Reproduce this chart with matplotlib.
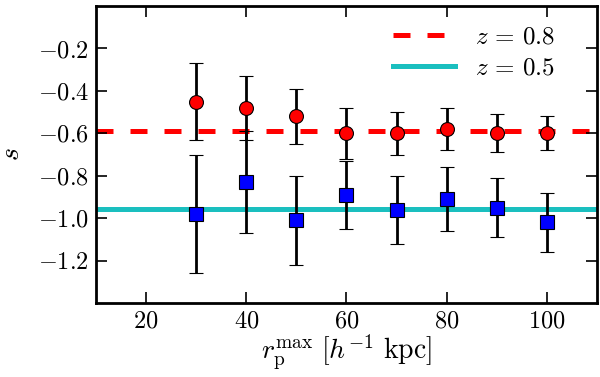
import matplotlib
matplotlib.use("Agg")
import matplotlib.pyplot as plt
from matplotlib.ticker import FuncFormatter, MultipleLocator

plt.rcParams['mathtext.fontset'] = 'cm'
plt.rcParams['font.family'] = 'serif'
plt.rcParams['font.serif'] = ['cmr10', 'DejaVu Serif']
plt.rcParams['axes.unicode_minus'] = True

rp = [30, 40, 50, 60, 70, 80, 90, 100]
s_z08 = [-0.45, -0.48, -0.52, -0.60, -0.60, -0.58, -0.60, -0.60]
err_z08 = [0.18, 0.15, 0.13, 0.12, 0.10, 0.10, 0.09, 0.08]
s_z05 = [-0.98, -0.83, -1.01, -0.89, -0.96, -0.91, -0.95, -1.02]
err_z05 = [0.28, 0.24, 0.21, 0.16, 0.16, 0.15, 0.14, 0.14]
mean_z08 = -0.59
mean_z05 = -0.955

fig = plt.figure(figsize=(6.0, 3.77), dpi=100)
ax = fig.add_axes([0.16, 0.196, 0.835, 0.788])

ax.axhline(mean_z08, color='red', lw=3.6, ls=(0, (3.4, 3.4)), label=r'$z\,=\,0.8$', zorder=1)
ax.axhline(mean_z05, color=(0.1, 0.75, 0.75), lw=3.6, label=r'$z\,=\,0.5$', zorder=1)

ax.errorbar(rp, s_z08, yerr=err_z08, fmt='o', color='black', mfc='red', mec='black',
            ms=10, mew=0.8, elinewidth=2, capsize=5, capthick=2, zorder=3)
ax.errorbar(rp, s_z05, yerr=err_z05, fmt='s', color='black', mfc='blue', mec='black',
            ms=9.5, mew=0.8, elinewidth=2, capsize=5, capthick=2, zorder=3)

ax.set_xlim(10, 110)
ax.set_ylim(-1.4, 0.0)
ax.xaxis.set_major_locator(MultipleLocator(20))
ax.set_yticks([-1.2, -1.0, -0.8, -0.6, -0.4, -0.2])
ax.xaxis.set_major_formatter(FuncFormatter(lambda v, p: r'$%d$' % v))
ax.yaxis.set_major_formatter(FuncFormatter(lambda v, p: r'$%.1f$' % v))
ax.tick_params(direction='in', length=8, width=1.2, top=True, right=True,
               labelsize=17.5, pad=5)
for sp in ax.spines.values():
    sp.set_linewidth(2)

ax.set_xlabel(r'$r_{\rm p}^{\rm max}\ [h^{-1}\ {\rm kpc}]$', fontsize=20, labelpad=0)
ax.set_ylabel(r'$s$', fontsize=20, labelpad=9)

ax.legend(loc='upper right', frameon=False, fontsize=18, handlelength=2.45,
          borderaxespad=0.4, labelspacing=0.35, handletextpad=0.8,
          bbox_to_anchor=(0.955, 1.0))

fig.savefig('out.png', dpi=100)
